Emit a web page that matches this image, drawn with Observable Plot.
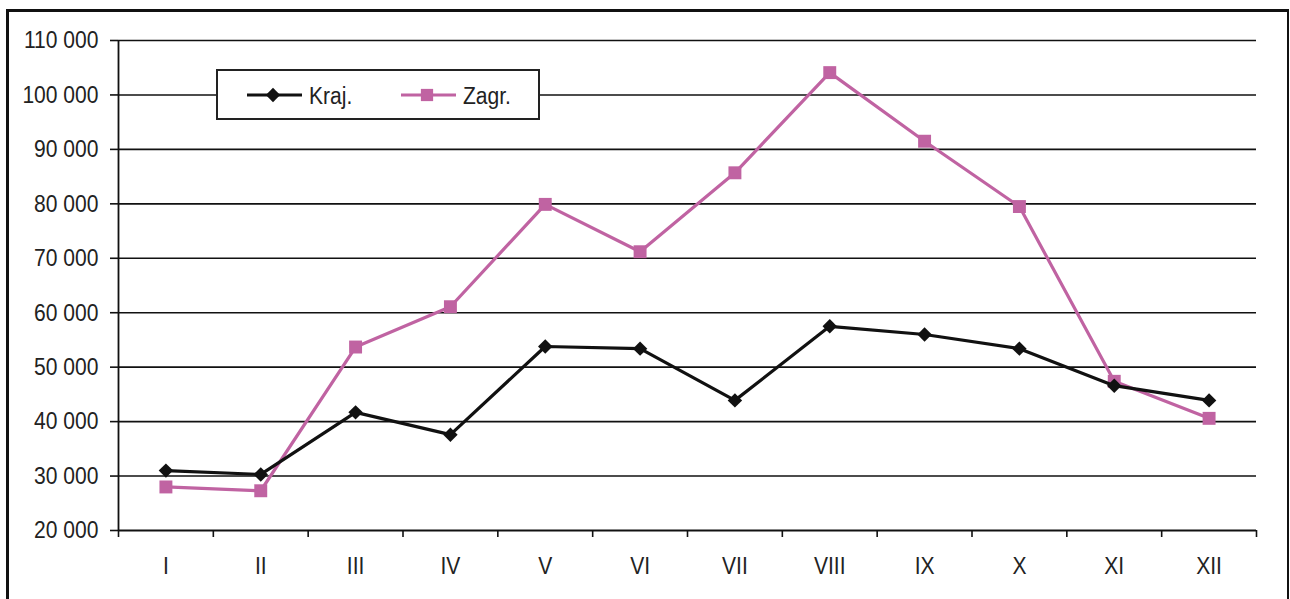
<!DOCTYPE html>
<html>
<head>
<meta charset="utf-8">
<script src="https://cdn.jsdelivr.net/npm/d3@7"></script>
<script src="https://cdn.jsdelivr.net/npm/@observablehq/plot@0.6"></script>
<style>
  html, body { margin: 0; padding: 0; background: #fff; }
  #wrap { position: relative; width: 1290px; height: 599px; overflow: hidden; }
  #frame { position: absolute; left: 6px; top: 9px; width: 1278px; height: 620px;
           border-top: 3px solid #111; border-left: 3px solid #111; border-right: 2px solid #111; }
  #chart { position: absolute; left: 0; top: 0; }
  #legend { position: absolute; left: 216px; top: 69px; width: 320px; height: 47px;
            border: 2px solid #222; background: #fff; }
</style>
</head>
<body>
<div id="wrap">
  <div id="frame"></div>
  <div id="chart"></div>
  <div id="legend"></div>
</div>
<script>
const months = ["I","II","III","IV","V","VI","VII","VIII","IX","X","XI","XII"];
const kraj  = [31000, 30300, 41700, 37600, 53800, 53400, 43900, 57500, 56000, 53400, 46600, 43900];
const zagr  = [28000, 27300, 53700, 61100, 79900, 71200, 85700, 104100, 91500, 79500, 47400, 40600];
const seriesNames = ["Kraj.", "Zagr."];
const colors = ["#111111", "#c063a2"];
const yTicks = [20000, 30000, 40000, 50000, 60000, 70000, 80000, 90000, 100000, 110000];

const rows = (vals, s) => vals.map((v, i) => ({month: months[i], pos: i + 0.5, value: v, series: s}));
const dKraj = rows(kraj, seriesNames[0]);
const dZagr = rows(zagr, seriesNames[1]);

const fmt = d => d3.format(",")(d).replace(/,/g, " ");
const centers = months.map((m, i) => i + 0.5);
const bounds = d3.range(0, months.length + 1);
const FONT = "'Liberation Sans', Arial, sans-serif";
const FS = 24.5;
const SX = 0.86;

const chart = Plot.plot({
  width: 1290,
  height: 599,
  marginLeft: 118,
  marginRight: 34,
  marginTop: 40,
  marginBottom: 69,
  style: {fontFamily: FONT, fontSize: FS + "px", color: "#222", background: "transparent"},
  x: {domain: [0, months.length], axis: null, label: null},
  y: {domain: [20000, 110000], axis: null, label: null},
  marks: [
    Plot.ruleY(yTicks.slice(1), {stroke: "#111", strokeWidth: 1.6}),
    Plot.ruleY([20000], {stroke: "#111", strokeWidth: 1.8}),
    Plot.ruleX([0], {stroke: "#111", strokeWidth: 1.8}),
    Plot.axisY({ticks: yTicks, tickFormat: fmt, tickSize: 8, tickPadding: 12, stroke: "#111", strokeWidth: 1.6, fontSize: FS, label: null}),
    Plot.axisX({ticks: bounds, tickFormat: () => "", tickSize: 7, stroke: "#111", strokeWidth: 1.6, label: null}),
    Plot.axisX({ticks: centers, tickFormat: d => months[Math.round(d - 0.5)], tickSize: 0, tickPadding: 26, fontSize: FS, label: null}),
    Plot.line(dZagr, {x: "pos", y: "value", stroke: colors[1], strokeWidth: 3.2}),
    Plot.dot(dZagr, {x: "pos", y: "value", symbol: "square", r: 7.3, fill: colors[1], stroke: "none"}),
    Plot.line(dKraj, {x: "pos", y: "value", stroke: colors[0], strokeWidth: 3.2}),
    Plot.dot(dKraj, {x: "pos", y: "value", symbol: "diamond2", r: 6.5, fill: colors[0], stroke: "none"})
  ]
});
// condense text horizontally (narrow font look)
d3.select(chart).selectAll("text").each(function() {
  const t = this.getAttribute("transform") || "";
  this.setAttribute("transform", (t + ` scale(${SX},1)`).trim());
});
document.getElementById("chart").appendChild(chart);

// Legend
const lg = d3.select("#legend").append("svg").attr("width", 320).attr("height", 47)
  .style("font-family", FONT).style("font-size", FS + "px");
const items = [
  {name: seriesNames[0], color: colors[0], sym: d3.symbolDiamond2, size: 130, x: 29},
  {name: seriesNames[1], color: colors[1], sym: d3.symbolSquare, size: 150, x: 183}
];
items.forEach(it => {
  const g = lg.append("g");
  g.append("line").attr("x1", it.x).attr("x2", it.x + 55).attr("y1", 24).attr("y2", 24)
    .attr("stroke", it.color).attr("stroke-width", 3.2);
  g.append("path").attr("d", d3.symbol(it.sym, it.size)()).attr("transform", `translate(${it.x + 26},24)`)
    .attr("fill", it.color);
  g.append("text").attr("transform", `translate(${it.x + 62},33) scale(${SX},1)`).attr("fill", "#222").text(it.name);
});
</script>
</body>
</html>
